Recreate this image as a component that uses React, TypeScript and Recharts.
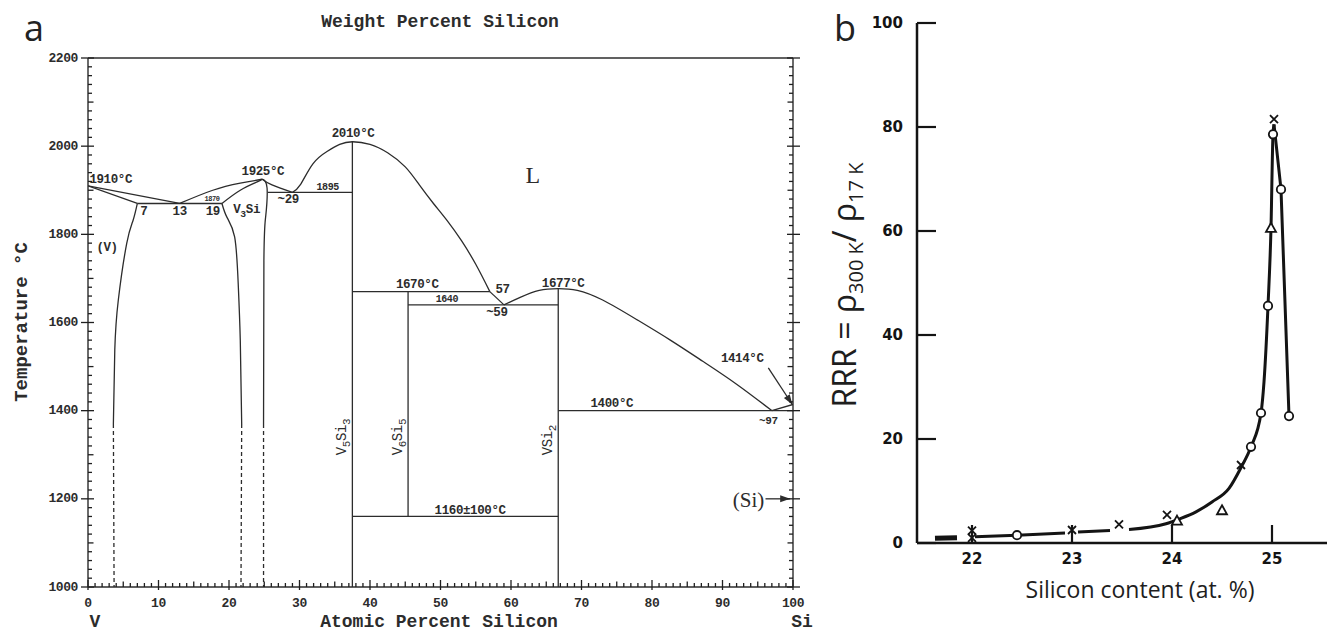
import React from 'react';
import { ComposedChart, Line, Scatter, XAxis, YAxis, ReferenceDot } from 'recharts';

const INK = '#2c2c2c';
const BLACK = '#141414';
const MONO = '"Liberation Mono", "DejaVu Sans Mono", monospace';
const SERIF = '"Liberation Serif", "DejaVu Serif", serif';
const SANS = '"Open Sans", "Noto Sans", sans-serif';
const BOLD_SANS = '"DejaVu Sans", "Noto Sans", sans-serif';

/* ---------- (a) V–Si phase diagram: x = at.% Si, t = °C ---------- */

const atLabels = [0, 10, 20, 30, 40, 50, 60, 70, 80, 90, 100];
const wtLabels = [0, 10, 20, 30, 40, 50, 60, 70, 80, 90, 100];
const tempLabels = [1000, 1200, 1400, 1600, 1800, 2000, 2200];

const range = (a: number, b: number, step: number) => {
  const out: number[] = [];
  for (let v = a; v <= b + 1e-9; v += step) out.push(+v.toFixed(4));
  return out;
};
const atMinor = range(0, 100, 1);
const wtMinor = range(0, 100, 1);
const tempMinor = range(1000, 2200, 20);

// weight % <-> atomic % for the top axis
const M_V = 50.9415;
const M_SI = 28.0855;
const wtToAt = (w: number) => {
  const si = w / M_SI;
  const v = (100 - w) / M_V;
  return (100 * si) / (si + v);
};
const atToWt = (a: number) => {
  const si = a * M_SI;
  const v = (100 - a) * M_V;
  return (100 * si) / (si + v);
};

type Pt = { x: number; t: number };

const liqV: Pt[] = [{ x: 0, t: 1910 }, { x: 13, t: 1870 }];
const solV: Pt[] = [{ x: 0, t: 1910 }, { x: 7, t: 1870 }];
const eut1870: Pt[] = [{ x: 7, t: 1870 }, { x: 19, t: 1870 }];
const solvusV: Pt[] = [
  { x: 7, t: 1870 }, { x: 6.4, t: 1832 }, { x: 5.5, t: 1780 }, { x: 4.3, t: 1651 },
  { x: 3.8, t: 1538 }, { x: 3.6, t: 1370 },
];
const solvusVLow: Pt[] = [{ x: 3.6, t: 1370 }, { x: 3.7, t: 1000 }];
const liqV3Si: Pt[] = [{ x: 13, t: 1870 }, { x: 17.7, t: 1900 }, { x: 21.6, t: 1916 }, { x: 24.7, t: 1925 }];
const solV3Si: Pt[] = [{ x: 19, t: 1870 }, { x: 21.6, t: 1900 }, { x: 24, t: 1919 }, { x: 24.7, t: 1925 }];
const v3siLeft: Pt[] = [
  { x: 19, t: 1870 }, { x: 19.7, t: 1839 }, { x: 20.8, t: 1794 }, { x: 21.3, t: 1690 },
  { x: 21.6, t: 1560 }, { x: 21.8, t: 1370 },
];
const v3siLeftLow: Pt[] = [{ x: 21.8, t: 1370 }, { x: 21.7, t: 1000 }];
const v3siRight: Pt[] = [
  { x: 24.7, t: 1925 }, { x: 25.4, t: 1905 }, { x: 25.2, t: 1840 }, { x: 24.95, t: 1740 }, { x: 24.9, t: 1370 },
];
const v3siRightLow: Pt[] = [{ x: 24.9, t: 1370 }, { x: 24.9, t: 1000 }];
const liqTo29: Pt[] = [{ x: 24.7, t: 1925 }, { x: 26.1, t: 1912 }, { x: 29, t: 1895 }];
const eut1895: Pt[] = [{ x: 25.5, t: 1895 }, { x: 37.5, t: 1895 }];
const liqV5Si3: Pt[] = [
  { x: 29, t: 1895 }, { x: 30.1, t: 1912 }, { x: 31.9, t: 1960 }, { x: 33.9, t: 1988 },
  { x: 35.7, t: 2004 }, { x: 37.5, t: 2010 }, { x: 40, t: 2004 }, { x: 42.5, t: 1985 },
  { x: 45, t: 1953 }, { x: 47, t: 1912 }, { x: 49, t: 1870 }, { x: 51, t: 1830 },
  { x: 53, t: 1785 }, { x: 55, t: 1732 }, { x: 57, t: 1670 },
];
const liq57to59: Pt[] = [{ x: 57, t: 1670 }, { x: 59, t: 1640 }];
const v5si3: Pt[] = [{ x: 37.5, t: 2010 }, { x: 37.5, t: 1000 }];
const per1670: Pt[] = [{ x: 37.5, t: 1670 }, { x: 57, t: 1670 }];
const v6si5: Pt[] = [{ x: 45.4, t: 1670 }, { x: 45.4, t: 1160 }];
const eut1640: Pt[] = [{ x: 45.4, t: 1640 }, { x: 66.7, t: 1640 }];
const liqVSi2: Pt[] = [
  { x: 59, t: 1640 }, { x: 61.3, t: 1657 }, { x: 64, t: 1673 }, { x: 66.7, t: 1677 },
  { x: 69.4, t: 1673 }, { x: 73, t: 1651 }, { x: 77.9, t: 1606 }, { x: 82.6, t: 1560 },
  { x: 87.2, t: 1512 }, { x: 92, t: 1460 }, { x: 97, t: 1400 },
];
const vsi2: Pt[] = [{ x: 66.7, t: 1677 }, { x: 66.7, t: 1000 }];
const dec1160: Pt[] = [{ x: 37.5, t: 1160 }, { x: 66.7, t: 1160 }];
const eut1400: Pt[] = [{ x: 66.7, t: 1400 }, { x: 100, t: 1400 }];
const liqSi: Pt[] = [{ x: 97, t: 1400 }, { x: 100, t: 1414 }];
const arrow1414: Pt[] = [{ x: 96.5, t: 1497 }, { x: 99.9, t: 1414 }];
const arrowSi: Pt[] = [{ x: 96.1, t: 1200 }, { x: 99.6, t: 1200 }];

const boundaries: { data: Pt[]; curve: 'linear' | 'natural'; dashed?: boolean }[] = [
  { data: liqV, curve: 'linear' },
  { data: solV, curve: 'linear' },
  { data: eut1870, curve: 'linear' },
  { data: solvusV, curve: 'natural' },
  { data: solvusVLow, curve: 'linear', dashed: true },
  { data: liqV3Si, curve: 'natural' },
  { data: solV3Si, curve: 'natural' },
  { data: v3siLeft, curve: 'natural' },
  { data: v3siLeftLow, curve: 'linear', dashed: true },
  { data: v3siRight, curve: 'natural' },
  { data: v3siRightLow, curve: 'linear', dashed: true },
  { data: liqTo29, curve: 'natural' },
  { data: eut1895, curve: 'linear' },
  { data: liqV5Si3, curve: 'natural' },
  { data: liq57to59, curve: 'linear' },
  { data: v5si3, curve: 'linear' },
  { data: per1670, curve: 'linear' },
  { data: v6si5, curve: 'linear' },
  { data: eut1640, curve: 'linear' },
  { data: liqVSi2, curve: 'natural' },
  { data: vsi2, curve: 'linear' },
  { data: dec1160, curve: 'linear' },
  { data: eut1400, curve: 'linear' },
  { data: liqSi, curve: 'linear' },
  { data: arrow1414, curve: 'linear' },
  { data: arrowSi, curve: 'linear' },
];

type Note = {
  x: number; t: number; text: string; size?: number;
  font?: string; anchor?: 'start' | 'middle' | 'end'; rot?: number; weight?: string;
};

// annotation text placed in data space
const notes: Note[] = [
  { x: 0.2, t: 1923, text: '1910°C', anchor: 'start' },
  { x: 2.7, t: 1769, text: '(V)' },
  { x: 7.9, t: 1851, text: '7' },
  { x: 13, t: 1851, text: '13' },
  { x: 17.6, t: 1880, text: '1870', size: 7 },
  { x: 17.7, t: 1851, text: '19' },
  { x: 22.5, t: 1855, text: 'V_3Si' },
  { x: 24.8, t: 1941, text: '1925°C' },
  { x: 28.4, t: 1878, text: '~29' },
  { x: 34, t: 1907, text: '1895', size: 10 },
  { x: 37.6, t: 2027, text: '2010°C' },
  { x: 63.1, t: 1935, text: 'L', size: 24, font: SERIF, weight: 'normal' },
  { x: 46.7, t: 1686, text: '1670°C' },
  { x: 50.9, t: 1653, text: '1640', size: 10 },
  { x: 58.8, t: 1674, text: '57' },
  { x: 58.0, t: 1622, text: '~59' },
  { x: 67.4, t: 1687, text: '1677°C' },
  { x: 74.3, t: 1414, text: '1400°C' },
  { x: 96.5, t: 1377, text: '~97', size: 11 },
  { x: 92.8, t: 1517, text: '1414°C' },
  { x: 93.7, t: 1198, text: '(Si)', size: 21, font: SERIF, weight: 'normal' },
  { x: 54.2, t: 1172, text: '1160±100°C' },
  { x: 36.0, t: 1340, text: 'V_5Si_3', size: 14, rot: -90, weight: 'normal' },
  { x: 44.0, t: 1340, text: 'V_6Si_5', size: 14, rot: -90, weight: 'normal' },
  { x: 65.2, t: 1333, text: 'VSi_2', size: 14, rot: -90, weight: 'normal' },
];

// "_d" marks a subscript digit
const rich = (s: string, fs: number) => {
  const pieces = s.split(/(_\w)/).filter(Boolean);
  let low = false;
  return pieces.map((p, i) => {
    if (p[0] === '_') {
      const el = (
        <tspan key={i} dy={low ? 0 : fs * 0.35} fontSize={fs * 0.78}>
          {p[1]}
        </tspan>
      );
      low = true;
      return el;
    }
    const el = (
      <tspan key={i} dy={low ? -fs * 0.35 : 0}>
        {p}
      </tspan>
    );
    low = false;
    return el;
  });
};

const renderNote = (n: Note) => (p: any) => {
  const fs = n.size ?? 12.5;
  return (
    <text
      x={p.cx}
      y={p.cy}
      textAnchor={n.anchor ?? 'middle'}
      dominantBaseline="central"
      fontFamily={n.font ?? MONO}
      fontWeight={n.weight ?? 'bold'}
      fontSize={fs}
      fill={INK}
      letterSpacing={n.font ? 0 : -0.4}
      transform={n.rot ? `rotate(${n.rot} ${p.cx} ${p.cy})` : undefined}
    >
      {rich(n.text, fs)}
    </text>
  );
};

const arrowHead = (angle: number) => (p: any) => (
  <polygon
    points="0,0 -10,-3.5 -10,3.5"
    fill={INK}
    transform={`translate(${p.cx},${p.cy}) rotate(${angle})`}
  />
);

const tickText = {
  fontFamily: MONO,
  fontWeight: 'bold' as const,
  fontSize: 13,
  fill: INK,
  letterSpacing: -0.4,
};

// tick marks are drawn by the tick renderers (tickLine is off)
const TICK = { stroke: '#1f1f1f', strokeWidth: 1.3 };

const AtTick = (p: any) => {
  const { x, y, payload } = p;
  const v = Math.round(payload.value);
  const major = atLabels.includes(v);
  const len = major ? 7 : v % 5 === 0 ? 5.5 : 4;
  return (
    <g>
      <line x1={x} x2={x} y1={y} y2={y - len} {...TICK} />
      {major && <line x1={x} x2={x} y1={y} y2={y + 3} {...TICK} />}
      {major && (
        <text x={x} y={y + 16} textAnchor="middle" dominantBaseline="central" {...tickText}>
          {v}
        </text>
      )}
    </g>
  );
};

const WtTick = (p: any) => {
  const { x, y, payload } = p;
  const w = Math.round(atToWt(payload.value));
  const major = wtLabels.includes(w);
  const len = major ? 7 : w % 5 === 0 ? 5.5 : 4;
  return (
    <g>
      <line x1={x} x2={x} y1={y} y2={y + len} {...TICK} />
      {major && (
        <text x={x} y={y - 13} textAnchor="middle" dominantBaseline="central" {...tickText}>
          {w}
        </text>
      )}
    </g>
  );
};

const TempTick = (p: any) => {
  const { x, y, payload } = p;
  const v = Math.round(payload.value);
  const major = tempLabels.includes(v);
  const len = major ? 6 : v % 100 === 0 ? 5.5 : 4;
  return (
    <g>
      <line x1={x} x2={x + len} y1={y} y2={y} {...TICK} />
      {major && <line x1={x} x2={x - 7} y1={y} y2={y} {...TICK} />}
      {major && (
        <text x={x - 10} y={y} textAnchor="end" dominantBaseline="central" {...tickText}>
          {v}
        </text>
      )}
    </g>
  );
};

const TempTickRight = (p: any) => {
  const { x, y, payload } = p;
  const v = Math.round(payload.value);
  const major = tempLabels.includes(v);
  const len = major ? 6 : v % 100 === 0 ? 5.5 : 4;
  return (
    <g>
      <line x1={x} x2={x - len} y1={y} y2={y} {...TICK} />
      {major && <line x1={x} x2={x + 7} y1={y} y2={y} {...TICK} />}
    </g>
  );
};

const PhaseDiagram = () => (
  <ComposedChart
    width={820}
    height={634}
    margin={{ top: 28, right: 17, bottom: 17, left: 28 }}
  >
    <XAxis
      dataKey="x"
      type="number"
      domain={[0, 100]}
      allowDataOverflow
      ticks={atMinor}
      interval={0}
      height={30}
      tickSize={0}
      tickMargin={0}
      tickLine={false}
      tick={AtTick}
      axisLine={{ stroke: INK, strokeWidth: 1.4 }}
    />
    <XAxis
      xAxisId="wt"
      orientation="top"
      type="number"
      domain={[0, 100]}
      allowDataOverflow
      ticks={wtMinor.map(wtToAt)}
      interval={0}
      height={30}
      tickSize={0}
      tickMargin={0}
      tickLine={false}
      tick={WtTick}
      axisLine={{ stroke: INK, strokeWidth: 1.4 }}
    />
    <YAxis
      type="number"
      domain={[1000, 2200]}
      allowDataOverflow
      ticks={tempMinor}
      interval={0}
      width={60}
      tickSize={0}
      tickMargin={0}
      tickLine={false}
      tick={TempTick}
      axisLine={{ stroke: INK, strokeWidth: 1.4 }}
    />
    <YAxis
      yAxisId="r"
      orientation="right"
      type="number"
      domain={[1000, 2200]}
      allowDataOverflow
      ticks={tempMinor}
      interval={0}
      width={10}
      tickSize={0}
      tickMargin={0}
      tickLine={false}
      tick={TempTickRight}
      axisLine={{ stroke: INK, strokeWidth: 1.4 }}
    />
    {boundaries.map((b, i) => (
      <Line
        key={i}
        data={b.data}
        dataKey="t"
        type={b.curve}
        stroke={INK}
        strokeWidth={1.3}
        strokeDasharray={b.dashed ? '4 3' : undefined}
        dot={false}
        activeDot={false}
        isAnimationActive={false}
      />
    ))}
    <ReferenceDot x={99.9} y={1414} r={1} ifOverflow="visible" shape={arrowHead(57)} />
    <ReferenceDot x={99.6} y={1200} r={1} ifOverflow="visible" shape={arrowHead(0)} />
    {notes.map((n, i) => (
      <ReferenceDot key={`n${i}`} x={n.x} y={n.t} r={1} ifOverflow="visible" shape={renderNote(n)} />
    ))}
  </ComposedChart>
);

/* ---------- (b) residual resistivity ratio vs Si content ---------- */

type RP = { x: number; y: number };

const rrrLabels = [0, 20, 40, 60, 80, 100];
const siLabels = [22, 23, 24, 25];

const lowBar: RP[] = [{ x: 21.63, y: 0.9 }, { x: 21.85, y: 1.0 }];
const seg22to23: RP[] = [{ x: 22.03, y: 1.2 }, { x: 22.45, y: 1.5 }, { x: 22.93, y: 1.9 }];
const seg23: RP[] = [{ x: 23.06, y: 2.1 }, { x: 23.38, y: 2.4 }];
const rise: RP[] = [
  { x: 23.57, y: 2.6 }, { x: 23.94, y: 3.7 }, { x: 24.07, y: 4.6 }, { x: 24.24, y: 6.0 },
  { x: 24.4, y: 7.9 }, { x: 24.57, y: 10.5 }, { x: 24.69, y: 14.5 }, { x: 24.79, y: 18.5 },
  { x: 24.89, y: 25 }, { x: 24.92, y: 31 }, { x: 24.96, y: 45.6 }, { x: 24.99, y: 60.6 },
  { x: 25.01, y: 78.6 }, { x: 25.02, y: 80.5 },
];
const fall: RP[] = [{ x: 25.02, y: 80.5 }, { x: 25.09, y: 68 }, { x: 25.17, y: 24.4 }];

const circles: RP[] = [
  { x: 22.45, y: 1.5 }, { x: 24.79, y: 18.5 }, { x: 24.89, y: 25 }, { x: 24.96, y: 45.6 },
  { x: 25.01, y: 78.6 }, { x: 25.09, y: 68 }, { x: 25.17, y: 24.4 },
];
const crosses: RP[] = [
  { x: 22.0, y: 1.0 }, { x: 22.0, y: 2.4 }, { x: 23.0, y: 2.5 }, { x: 23.47, y: 3.6 },
  { x: 23.95, y: 5.4 }, { x: 24.69, y: 15 }, { x: 25.02, y: 81.5 },
];
const triangles: RP[] = [{ x: 24.05, y: 4.3 }, { x: 24.5, y: 6.3 }, { x: 24.99, y: 60.6 }];

const CircleMark = (p: any) => (
  <circle cx={p.cx} cy={p.cy} r={4.2} fill="#fff" stroke={BLACK} strokeWidth={1.8} />
);
const CrossMark = (p: any) => (
  <path
    d={`M${p.cx - 4},${p.cy - 4}L${p.cx + 4},${p.cy + 4}M${p.cx + 4},${p.cy - 4}L${p.cx - 4},${p.cy + 4}`}
    stroke={BLACK}
    strokeWidth={1.8}
  />
);
const TriangleMark = (p: any) => (
  <path
    d={`M${p.cx},${p.cy - 5}L${p.cx + 5},${p.cy + 4}L${p.cx - 5},${p.cy + 4}Z`}
    fill="#fff"
    stroke={BLACK}
    strokeWidth={1.8}
  />
);

const bTickText = {
  fontFamily: BOLD_SANS,
  fontWeight: 'bold' as const,
  fontSize: 15,
  fill: BLACK,
};

const SiTick = (p: any) => {
  const { x, y, payload } = p;
  return (
    <g>
      <line x1={x} x2={x} y1={y} y2={y - 18} stroke={BLACK} strokeWidth={2.2} />
      <text x={x} y={y + 16} textAnchor="middle" dominantBaseline="central" {...bTickText}>
        {payload.value}
      </text>
    </g>
  );
};

const RrrTick = (p: any) => {
  const { x, y, payload } = p;
  return (
    <g>
      <line x1={x} x2={x + 19} y1={y} y2={y} stroke={BLACK} strokeWidth={2.2} />
      <text x={x - 14} y={y} textAnchor="end" dominantBaseline="central" {...bTickText}>
        {payload.value}
      </text>
    </g>
  );
};

const lineProps = {
  dataKey: 'y',
  stroke: BLACK,
  strokeWidth: 3,
  dot: false,
  activeDot: false,
  isAnimationActive: false,
};

const RrrPlot = () => (
  <ComposedChart width={511} height={634} margin={{ top: 23, right: 4, bottom: 51, left: 37 }}>
    <XAxis
      dataKey="x"
      type="number"
      domain={[21.45, 25.55]}
      allowDataOverflow
      ticks={siLabels}
      interval={0}
      height={40}
      tickSize={0}
      tickMargin={0}
      tickLine={false}
      tick={SiTick}
      axisLine={{ stroke: BLACK, strokeWidth: 2.5 }}
    />
    <YAxis
      dataKey="y"
      type="number"
      domain={[0, 100]}
      allowDataOverflow
      ticks={rrrLabels}
      interval={0}
      width={60}
      tickSize={0}
      tickMargin={0}
      tickLine={false}
      tick={RrrTick}
      axisLine={{ stroke: BLACK, strokeWidth: 2.5 }}
    />
    <Line {...lineProps} data={lowBar} type="linear" strokeWidth={5} />
    <Line {...lineProps} data={seg22to23} type="linear" />
    <Line {...lineProps} data={seg23} type="linear" />
    <Line {...lineProps} data={rise} type="monotone" />
    <Line {...lineProps} data={fall} type="linear" />
    <Scatter data={crosses} shape={CrossMark} isAnimationActive={false} />
    <Scatter data={triangles} shape={TriangleMark} isAnimationActive={false} />
    <Scatter data={circles} shape={CircleMark} isAnimationActive={false} />
  </ComposedChart>
);

export default function App() {
  return (
    <div
      style={{
        position: 'absolute',
        left: 0,
        top: 0,
        width: 1331,
        height: 634,
        background: '#fff',
        overflow: 'hidden',
      }}
    >
      <div style={{ position: 'absolute', left: 0, top: 0 }}>
        <PhaseDiagram />
      </div>
      <div style={{ position: 'absolute', left: 820, top: 0 }}>
        <RrrPlot />
      </div>
      <svg
        width={1331}
        height={634}
        style={{ position: 'absolute', left: 0, top: 0, pointerEvents: 'none' }}
      >
        <text x={24} y={41} fontFamily={SANS} fontSize={36} fill="#222">a</text>
        <text x={834} y={41} fontFamily={SANS} fontSize={36} fill="#222">b</text>

        <text x={440} y={27} textAnchor="middle" fontFamily={MONO} fontSize={18} fill={INK} fontWeight="bold">
          Weight Percent Silicon
        </text>
        <text x={439} y={627} textAnchor="middle" fontFamily={MONO} fontSize={18} fill={INK} fontWeight="bold">
          Atomic Percent Silicon
        </text>
        <text x={95} y={627} textAnchor="middle" fontFamily={MONO} fontSize={18} fill={INK} fontWeight="bold">
          V
        </text>
        <text x={802} y={627} textAnchor="middle" fontFamily={MONO} fontSize={18} fill={INK} fontWeight="bold">
          Si
        </text>
        <text
          transform="translate(27,322) rotate(-90)"
          textAnchor="middle"
          fontFamily={MONO}
          fontSize={19}
          fill={INK}
          fontWeight="bold"
        >
          Temperature °C
        </text>

        <text
          transform="translate(856,285) rotate(-90)"
          textAnchor="middle"
          fontFamily={SANS}
          fontSize={32}
          fill="#1e1e1e"
        >
          RRR = ρ
          <tspan fontSize={20} dy={7}>300 K</tspan>
          <tspan dy={-7}>/ ρ</tspan>
          <tspan fontSize={20} dy={7}>17 K</tspan>
        </text>
        <text x={1140} y={598} textAnchor="middle" fontFamily={SANS} fontSize={23} fill="#1e1e1e">
          Silicon content (at. %)
        </text>
      </svg>
    </div>
  );
}
